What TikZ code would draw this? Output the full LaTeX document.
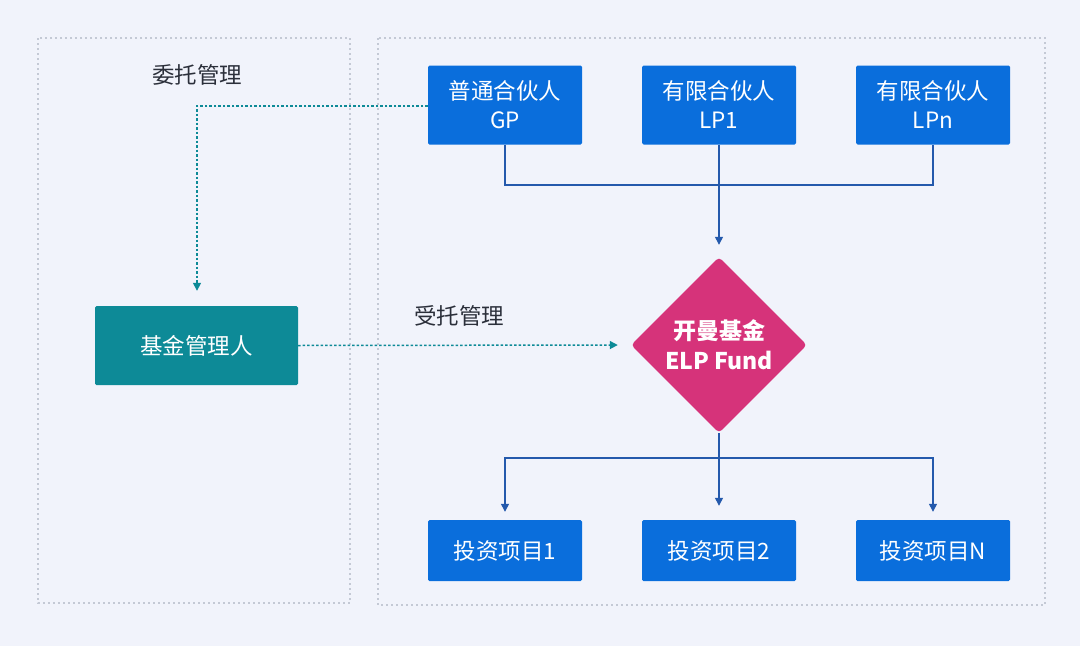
\documentclass[tikz,border=0pt]{standalone}
\usepackage{fontspec}
\setmainfont{Noto Sans CJK SC}
\usepackage{tikz}
\usetikzlibrary{shapes.geometric,arrows.meta}
\usepackage{xcolor}
\definecolor{bgcol}{HTML}{F1F3FB}
\definecolor{regcol}{HTML}{C4C9D5}
\definecolor{boxblue}{HTML}{0A6EDC}
\definecolor{linkblue}{HTML}{2459AC}
\definecolor{mgrteal}{HTML}{0D8A97}
\definecolor{fundpink}{HTML}{D6337A}
\definecolor{labelcol}{HTML}{2B2F3A}

\begin{document}
\begin{tikzpicture}[x=1pt,y=-1pt,
            region/.style={draw=regcol,line width=1.2pt,dash pattern=on 2pt off 3pt},
            partner/.style={fill=boxblue,text=white,font=\fontsize{22.5}{29}\selectfont,
                            minimum width=154pt,minimum height=79pt,inner sep=0pt,
                            align=center,rounded corners=1.5pt},
            project/.style={partner,minimum height=61pt},
            link/.style={draw=linkblue,line width=1.3pt},
            trust/.style={draw=mgrteal,line width=1.5pt,dash pattern=on 2.5pt off 2pt},
            tip/.style={-{Triangle[length=8pt,width=8pt]}}
            ]
            % background and the two dotted regions
            \fill[bgcol] (0,0) rectangle (1080,646);
            \draw[region] (38,38) rectangle (350,603);
            \draw[region] (378,38) rectangle (1045,605);

            % partners
            \node[partner] (gp)  at (505,105) {普通合伙人\\GP};
            \node[partner] (lp1) at (719,105) {有限合伙人\\LP1};
            \node[partner] (lpn) at (933,105) {有限合伙人\\LPn};

            % fund and manager
            \node[diamond,fill=fundpink,text=white,minimum width=176pt,minimum height=176pt,
                  inner sep=0pt,rounded corners=4pt,align=center,
                  font=\bfseries\fontsize{23}{30}\selectfont] (fund) at (719,345) {开曼基金\\ELP Fund};
            \node[fill=mgrteal,text=white,minimum width=203pt,minimum height=79pt,inner sep=0pt,
                  rounded corners=1.5pt,font=\fontsize{22.5}{29}\selectfont] (mgr) at (196.5,345.5) {基金管理人};

            % projects
            \node[project] (p1) at (505,550.5) {投资项目1};
            \node[project] (p2) at (719,550.5) {投资项目2};
            \node[project] (pn) at (933,550.5) {投资项目N};

            % labels
            \node[text=labelcol,font=\fontsize{22.5}{29}\selectfont] (delegate) at (197,75) {委托管理};
            \node[text=labelcol,font=\fontsize{22.5}{29}\selectfont] (entrust) at (459,316) {受托管理};

            % partner links
            \coordinate (top) at (719,185);
            \draw[link] (gp.south) |- (top) -| (lpn.south);
            \draw[link,tip,shorten >=12pt] (lp1.south) -- (fund.north);

            % project links
            \coordinate (bot) at (719,458);
            \draw[link] (fund.south) -- (bot);
            \draw[link,tip,shorten >=8pt] (bot) -| (p1.north);
            \draw[link,tip,shorten >=8pt] (bot) -| (pn.north);
            \draw[link,tip,shorten >=14pt] (bot) -- (p2.north);

            % trust links
            \coordinate (turn) at (197,106);
            \draw[trust,tip,shorten >=15pt] (gp.west |- turn) -- (turn) -- (mgr.north -| turn);
            \draw[trust,tip,shorten >=13pt] (mgr.east) -- (fund.west);
\end{tikzpicture}
\end{document}
